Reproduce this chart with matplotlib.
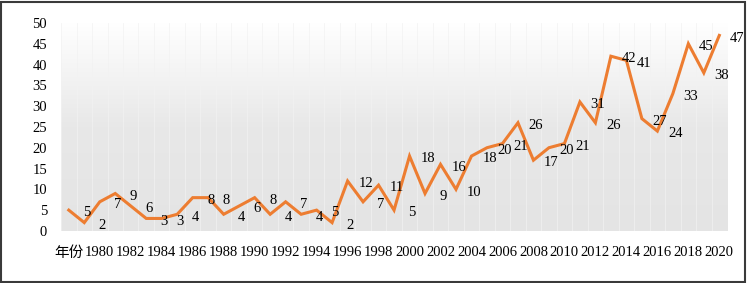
import numpy as np
import matplotlib
matplotlib.use('Agg')
import matplotlib.pyplot as plt
from matplotlib.patches import Rectangle

plt.rcParams['font.family'] = ['Liberation Serif', 'Noto Sans CJK SC']

categories = ['年份'] + [str(y) for y in range(1979, 2021)]
values = [5, 2, 7, 9, 6, 3, 3, 4, 8, 8, 4, 6, 8, 4, 7, 4, 5, 2, 12, 7, 11, 5,
          18, 9, 16, 10, 18, 20, 21, 26, 17, 20, 21, 31, 26, 42, 41, 27, 24,
          33, 45, 38, 47]
y_ticks = [0, 5, 10, 15, 20, 25, 30, 35, 40, 45, 50]

fig = plt.figure(figsize=(7.48, 2.83), dpi=100)
ax = fig.add_axes([0.0816, 0.184, 0.8904, 0.735])

x = np.arange(len(values))
ax.set_xlim(-0.5, len(values) - 0.5)
ax.set_ylim(0, 50)

# gradient background, white at top to light gray at bottom
grad = np.linspace(1.0, 0.0, 256).reshape(-1, 1)
ax.imshow(grad, extent=[-0.5, len(values) - 0.5, 0, 50], aspect='auto',
          cmap=matplotlib.colors.LinearSegmentedColormap.from_list(
              'g', ['#e4e4e4', '#e8e8e8', '#ffffff']),
          zorder=0)

# faint vertical gridlines
for i in range(len(values) + 1):
    ax.axvline(i - 0.5, color='#f2f2f2', lw=0.6, zorder=1, alpha=0.8)

ax.plot(x, values, color='#ED7D31', lw=2.2, zorder=3, solid_joinstyle='miter')

for i, v in enumerate(values):
    ax.annotate(str(v), (i, v), xytext=(13, -2), textcoords='offset points',
                ha='center', va='center', fontsize=10.5, color='black', zorder=4)

ax.set_xticks(x[::2])
ax.set_xticklabels(categories[::2], fontsize=10.5)
ax.set_yticks(y_ticks)
ax.set_yticklabels([str(t) for t in y_ticks], fontsize=10.5)
ax.tick_params(length=0)
ax.tick_params(axis='x', pad=11)
ax.tick_params(axis='y', pad=10)
for s in ax.spines.values():
    s.set_visible(False)

fig.patches.append(Rectangle((0.002, 0.004), 0.994, 0.99, transform=fig.transFigure,
                             fill=False, edgecolor='#3a3a3a', lw=1.5))

fig.savefig('out.png', dpi=100)
